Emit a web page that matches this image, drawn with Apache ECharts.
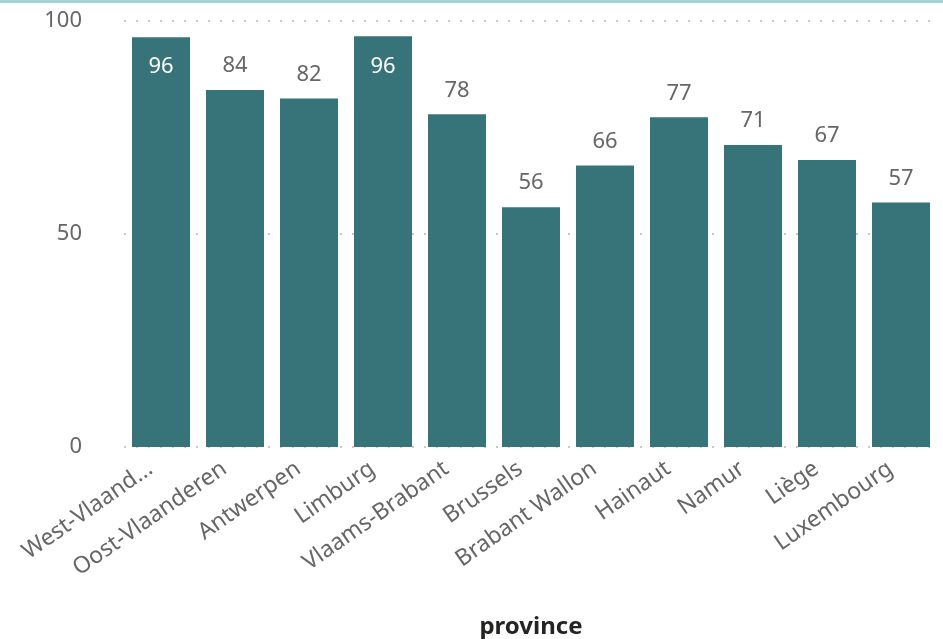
<!DOCTYPE html>
<html><head><meta charset="utf-8">
<script src="https://cdn.jsdelivr.net/npm/echarts@6/dist/echarts.min.js"></script>
<style>html,body{margin:0;padding:0;background:#fff}#c{width:943px;height:639px}</style>
</head><body><div id="c"></div>
<script>
const categories = ["West-Vlaand...", "Oost-Vlaanderen", "Antwerpen", "Limburg", "Vlaams-Brabant", "Brussels", "Brabant Wallon", "Hainaut", "Namur", "Liège", "Luxembourg"];
const values = [96.2, 83.8, 81.8, 96.4, 78.1, 56.3, 66.1, 77.4, 70.9, 67.4, 57.4];
const yTicks = [0, 50, 100];
const insideThreshold = 90;

const font = '"Segoe UI", "Noto Sans", sans-serif';
const chart = echarts.init(document.getElementById('c'));
chart.setOption({
  animation: false,
  graphic: [{ type: 'rect', left: 0, top: 0, shape: { width: 943, height: 3 }, style: { fill: '#A3D3D8' } }],
  grid: { left: 124, right: 5, top: 21, bottom: 192, containLabel: false, outerBoundsMode: 'none' },
  xAxis: {
    type: 'category', data: categories,
    axisLine: { show: false }, axisTick: { show: false },
    axisLabel: { rotate: 35, color: '#666666', fontSize: 23, fontFamily: font, margin: 12, interval: 0,
      padding: [0, 13, 0, 0] },
    name: 'province', nameLocation: 'middle', nameGap: 168,
    nameTextStyle: { color: '#252423', fontSize: 24, fontWeight: 'bold', fontFamily: font }
  },
  yAxis: {
    type: 'value', min: 0, max: 100, interval: 50,
    axisLine: { show: false }, axisTick: { show: false },
    axisLabel: { color: '#666666', fontSize: 22, fontFamily: font, margin: 42,
      formatter: v => yTicks.includes(v) ? String(v) : '' },
    splitLine: { lineStyle: { color: '#C8C8C8', width: 2, type: [2, 10] } }
  },
  series: [{
    type: 'bar', barCategoryGap: '21.6%',
    itemStyle: { color: '#37747A' },
    data: values.map(v => ({
      value: v,
      label: v >= insideThreshold
        ? { show: true, position: 'insideTop', distance: 19, color: '#FFFFFF' }
        : { show: true, position: 'top', distance: 13, color: '#666666' }
    })),
    label: { fontSize: 22, fontFamily: font, formatter: p => Math.round(p.value) }
  }]
});
</script></body></html>
